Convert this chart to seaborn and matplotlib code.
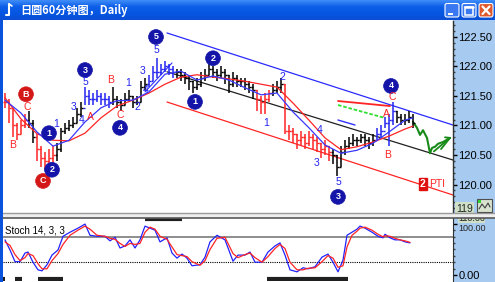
import numpy as np
import pandas as pd
import matplotlib
matplotlib.use("Agg")
import matplotlib.pyplot as plt
import seaborn as sns
from matplotlib.patches import Rectangle, FancyBboxPatch
from matplotlib.colors import LinearSegmentedColormap
from matplotlib.ticker import MultipleLocator, FixedLocator

# ---------------- data ----------------
closes = [121.40,121.30,121.00,120.85,121.00,121.10,121.05,120.80,120.60,120.45,
          120.40,120.45,120.50,120.60,120.90,120.95,121.00,121.05,121.20,121.30,
          121.50,121.45,121.45,121.50,121.45,121.45,121.40,121.45,121.40,121.35,
          121.45,121.50,121.40,121.40,121.65,121.70,121.75,121.90,121.90,121.95,
          122.00,121.95,121.90,121.90,121.85,121.80,121.75,121.65,121.70,121.80,
          121.85,121.95,121.90,121.85,121.90,121.85,121.70,121.80,121.75,121.75,
          121.70,121.65,121.60,121.45,121.40,121.45,121.55,121.60,121.65,121.70,
          120.90,120.90,120.85,120.75,120.80,120.70,120.80,120.75,120.70,120.60,
          120.65,120.55,120.50,120.30,120.55,120.65,120.70,120.75,120.75,120.80,
          120.75,120.70,120.75,120.85,120.90,121.05,121.10,121.25,121.15,121.10,
          121.10,121.15,121.05]
highs = [121.55,121.45,121.30,121.05,121.10,121.20,121.25,121.10,120.85,120.65,
         120.55,120.60,120.65,120.70,120.95,121.05,121.10,121.15,121.30,121.40,
         121.65,121.60,121.55,121.60,121.55,121.55,121.50,121.65,121.50,121.45,
         121.55,121.60,121.50,121.50,121.75,121.80,121.85,122.00,122.15,122.05,
         122.10,122.05,122.00,121.95,121.95,121.90,121.85,121.75,121.80,121.90,
         121.95,122.05,122.00,121.95,122.00,121.95,121.85,121.90,121.85,121.80,
         121.80,121.75,121.70,121.60,121.50,121.55,121.60,121.70,121.75,121.80,
         121.70,121.00,120.95,120.85,120.90,120.85,120.90,120.85,120.80,120.70,
         120.75,120.65,120.60,120.50,120.65,120.75,120.80,120.85,120.80,120.85,
         120.85,120.80,120.85,120.95,121.00,121.15,121.20,121.40,121.25,121.20,
         121.20,121.25,121.20]
lows = [121.30,121.05,120.80,120.75,120.85,120.95,120.95,120.70,120.40,120.30,
        120.25,120.30,120.35,120.40,120.55,120.85,120.90,120.95,121.05,121.15,
        121.35,121.35,121.35,121.40,121.35,121.35,121.30,121.35,121.30,121.25,
        121.35,121.40,121.30,121.35,121.40,121.60,121.65,121.75,121.80,121.85,
        121.90,121.85,121.80,121.80,121.75,121.70,121.60,121.55,121.60,121.65,
        121.75,121.85,121.80,121.75,121.80,121.70,121.55,121.65,121.65,121.65,
        121.60,121.55,121.45,121.25,121.20,121.20,121.40,121.50,121.55,121.55,
        120.85,120.75,120.70,120.60,120.65,120.60,120.65,120.60,120.55,120.45,
        120.50,120.40,120.35,120.15,120.30,120.50,120.60,120.65,120.65,120.70,
        120.65,120.60,120.65,120.75,120.80,120.95,120.65,121.00,121.05,121.00,
        121.00,121.05,120.95]

# moving averages, read every 4 bars
ma_pos = [0,4,8,12,16,20,24,28,32,36,40,44,48,52,56,60,64,68,72,76,80,84,88,92,96,100,102]
red_ma = [121.47,121.11,120.86,120.75,120.74,120.87,121.13,121.33,121.43,121.55,121.70,121.82,121.86,
          121.82,121.79,121.75,121.70,121.65,121.38,121.09,120.79,120.59,120.64,120.72,120.82,120.94,120.99]
blue_ma = [121.43,121.21,120.89,120.65,120.75,121.06,121.30,121.42,121.43,121.57,121.87,121.92,121.77,
           121.84,121.77,121.64,121.52,121.55,121.23,120.96,120.67,120.53,120.58,120.70,120.89,121.09,121.13]

# channel lines (bar index, price)
chan_x = [40.5, 112]
chan_blue = [122.568, 121.008]
chan_red = [121.398, 119.822]
chan_black = [121.91, 120.415]

# forecast path
fc_pos = [102,103,103.75,104.5,105.5,106.25,106.75,107.5,108.25,109.5,111.25]
fc_val = [121.06,120.96,120.84,120.92,120.79,120.53,120.62,120.64,120.69,120.72,120.79]

# stochastic 14,3,3
stoch_pos = [0,1.25,2.5,3.75,5,5.75,7,8.25,9.25,10.5,
             11.75,13.25,14.5,16.25,18.25,20,21.25,23,25,26.25,
             27.5,28.75,30,31.25,32.5,33.75,35,36.25,37.5,38.75,
             40.5,41.75,43,44.25,45.5,46.75,48.75,50,51.25,53,
             55,57,58.25,60,61.25,62.5,64.25,65.75,67.5,68.75,
             70,71.25,73,74.5,75.75,77.5,79.25,80.75,82,83.25,
             84.5,85.5,86.75,88,88.75,90,91.75,93.25,94.5,95,
             96.25,97.5,98.75,100,101.25]
stoch_k = [69,49,26,26,43,45,25,10,8,20,
           39,49,76,84,92,100,78,76,76,67,
           74,53,57,69,53,69,96,92,88,65,
           73,43,33,41,33,18,20,35,65,78,
           69,27,39,39,45,25,25,45,57,63,
           39,10,6,14,12,16,35,41,25,6,
           29,78,84,90,96,92,84,76,73,80,
           73,69,69,65,63]
stoch_d = [65,58,40,28,34,42,38,22,12,12,
           28,42,60,78,88,96,90,78,76,72,
           70,62,56,62,60,62,84,94,90,76,
           70,55,40,38,36,26,19,28,50,72,
           74,42,34,40,43,34,25,36,52,60,
           52,25,10,10,13,14,26,38,33,15,
           18,55,78,86,92,94,88,80,75,77,
           76,72,69,67,64]

price_ticks = [120.00, 120.50, 121.00, 121.50, 122.00, 122.50]
stoch_ticks = [0, 100]

# wave labels: (text, bar, price, colour key)
circle_labels = [('B',5.25,121.53,'r'),('C',9.5,120.06,'r'),('1',11,120.87,'b'),('2',11.75,120.25,'b'),
                 ('3',20,121.94,'b'),('4',28.75,120.96,'b'),('5',37.75,122.50,'b'),('1',47.5,121.40,'b'),
                 ('2',52,122.14,'b'),('3',83.25,119.79,'b'),('4',96.5,121.67,'b')]
text_labels = [('B',2,120.67,'r'),('C',5.5,121.31,'r'),('1',12.75,121.03,'b'),('3',17.25,121.31,'b'),
               ('4',19.25,121.09,'b'),('A',21.25,121.14,'r'),('C',28.75,121.18,'r'),('2',33,121.31,'b'),
               ('5',20,121.74,'b'),('B',26.5,121.77,'r'),('1',30.75,121.72,'b'),('3',34.5,121.92,'b'),
               ('4',35.25,121.60,'b'),('5',37.75,122.28,'b'),('2',69.25,121.82,'b'),('C',96.75,121.48,'r'),
               ('1',65.25,121.04,'b'),('4',78.75,120.92,'b'),('3',78,120.36,'b'),('5',83.25,120.04,'b'),
               ('A',95.25,121.19,'r'),('B',95.75,120.50,'r')]

# ---------------- style ----------------
sns.set_style("white")
plt.rcParams['font.family'] = ['Liberation Sans', 'Noto Sans CJK SC', 'DejaVu Sans']

RED = '#ff2424'
BLUE = '#2424f0'
W, H = 495, 282
fig = plt.figure(figsize=(4.95, 2.82), dpi=100)
fig.patch.set_facecolor('white')

# background (pixel coordinates) for window chrome
ax_bg = fig.add_axes([0, 0, 1, 1], zorder=0)
grad = np.linspace(0, 1, 40)[:, None]
cmap = LinearSegmentedColormap.from_list('tb', ['#3f8cf8', '#0c5ee8', '#0556e2', '#0a4ed4'])
ax_bg.imshow(grad, extent=(0, W, 20, 0), cmap=cmap, aspect='auto')
ax_bg.set_xlim(0, W); ax_bg.set_ylim(H, 0); ax_bg.axis('off')
ax_bg.add_patch(Rectangle((453, 20), 42, 262, fc='#a6caf0', ec='none'))
ax_bg.add_patch(Rectangle((0, 20), 3, 262, fc='#0b52dc', ec='none'))
ax_bg.text(20, 10.5, '日圆60分钟图，Daily', color='white', fontsize=8, fontweight='bold',
           va='center', ha='left', family=['Noto Sans CJK SC', 'DejaVu Sans'])
ax_bg.plot([9, 9, 6], [4, 15, 15], color='white', lw=1.5)
ax_bg.plot([9, 12], [4, 6], color='white', lw=1.2)
for x0, fcol in [(445, '#3a78f2'), (462, '#3a78f2'), (479, '#e0582e')]:
    ax_bg.add_patch(FancyBboxPatch((x0, 3.5), 14, 13.5, boxstyle='round,pad=0,rounding_size=2',
                                   fc=fcol, ec='white', lw=0.8))
ax_bg.add_patch(Rectangle((448, 12.5), 5, 2, fc='white', ec='none'))
ax_bg.add_patch(Rectangle((465, 6.5), 8, 8, fill=False, ec='white', lw=1.1))
ax_bg.plot([465, 473], [7, 7], color='white', lw=1.8)
ax_bg.plot([482.5, 489.5], [6.5, 14], color='white', lw=1.6)
ax_bg.plot([482.5, 489.5], [14, 6.5], color='white', lw=1.6)

# ---------------- main price panel ----------------
ax = fig.add_axes([3 / W, 1 - 213 / H, 450 / W, 192 / H], zorder=1)
ax.set_facecolor('white')
idx = np.arange(len(closes))
opens = [closes[0]] + closes[:-1]
segments = [(0, 5, RED), (6, 7, 'black'), (8, 12, RED), (13, 19, 'black'), (20, 26, BLUE),
            (27, 35, 'black'), (36, 42, BLUE), (43, 62, 'black'), (63, 66, RED), (67, 69, 'black'),
            (70, 81, RED), (82, 92, 'black'), (93, 97, BLUE), (98, 102, 'black')]
cols = ['black'] * len(closes)
for s, e, c in segments:
    for k in range(s, e + 1):
        cols[k] = c
ax.vlines(idx, lows, highs, colors=cols, lw=1.1, zorder=3)
ax.hlines(opens, idx - 0.5, idx, colors=cols, lw=1.0, zorder=3)
ax.hlines(closes, idx, idx + 0.5, colors=cols, lw=1.0, zorder=3)

sns.lineplot(x=ma_pos, y=red_ma, ax=ax, color=RED, lw=0.9, zorder=4)
sns.lineplot(x=ma_pos, y=blue_ma, ax=ax, color='#3838ff', lw=0.9, zorder=4)
sns.lineplot(x=chan_x, y=chan_blue, ax=ax, color='#2a2aff', lw=0.9)
sns.lineplot(x=chan_x, y=chan_red, ax=ax, color=RED, lw=0.9)
sns.lineplot(x=chan_x, y=chan_black, ax=ax, color='#202020', lw=0.9)
ax.plot([35, 41.75], [121.57, 122.06], color='#3030ff', lw=0.8)
ax.plot([83.25, 96.25], [121.415, 121.33], color=RED, lw=1.3)
ax.plot([83.25, 95], [121.347, 121.127], color='#30e030', lw=1.3, ls=(0, (2, 1)))
ax.plot([83.25, 87.5], [121.093, 121.008], color='#3030ff', lw=1.0)
sns.lineplot(x=fc_pos, y=fc_val, ax=ax, color='#188a18', lw=1.5, sort=False)
ax.plot([107.2, 111.25], [120.56, 120.79], color='#188a18', lw=1.3)
ax.plot([109.0, 111.25], [120.60, 120.79], color='#188a18', lw=1.3)
ax.plot([110.0, 111.25], [120.80, 120.79], color='#188a18', lw=1.3)

for t, xb, yp, ck in circle_labels:
    fcol = '#1414a8' if ck == 'b' else '#d41818'
    ax.text(xb, yp, t, color='white', fontsize=6.5, fontweight='bold', ha='center', va='center',
            zorder=6, bbox=dict(boxstyle='circle,pad=0.32', fc=fcol, ec=fcol, lw=0.5))
for t, xb, yp, ck in text_labels:
    ax.text(xb, yp, t, color=BLUE if ck == 'b' else RED, fontsize=7.5, ha='center', va='center', zorder=6)
ax.text(104.5, 120.01, '2', color='white', fontsize=7.5, fontweight='bold', ha='center', va='center',
        bbox=dict(boxstyle='square,pad=0.12', fc='#e01010', ec='#e01010'), zorder=6)
ax.text(106.0, 120.01, 'PTI', color=RED, fontsize=7.5, ha='left', va='center', zorder=6)

ax.set_xlim(-0.5, 112)
ax.set_ylim(119.517, 122.771)
ax.set_xticks([])
ax.yaxis.tick_right()
ax.yaxis.set_major_locator(FixedLocator(price_ticks))
ax.set_yticklabels([f'{v:.2f}' for v in price_ticks])
ax.yaxis.set_minor_locator(MultipleLocator(0.1))
ax.tick_params(axis='y', which='major', direction='out', length=3, width=1, pad=1, labelsize=8, colors='black')
ax.tick_params(axis='y', which='minor', direction='out', length=1.2, width=1, colors='#404040')
for sp in ['left', 'top', 'bottom']:
    ax.spines[sp].set_visible(False)
ax.spines['right'].set_color('#303030')
ax.spines['right'].set_linewidth(1)

# ---------------- stochastic panel ----------------
ax_s = fig.add_axes([3 / W, 1 / H, 450 / W, 63 / H], zorder=1)
ax_s.set_facecolor('white')
ax_s.axhline(75, color='#7a7a7a', lw=1.2)
ax_s.axhline(25, color='black', lw=0.8, ls=(0, (1, 1)))
sns.lineplot(x=stoch_pos, y=stoch_k, ax=ax_s, color='#2222ff', lw=0.9)
sns.lineplot(x=stoch_pos, y=stoch_d, ax=ax_s, color=RED, lw=0.9)
ax_s.plot([35, 44.25], [109.8, 109.8], color='#202020', lw=3, solid_capstyle='butt')
for a, b in [(-0.5, 0), (2.5, 4.25), (8.25, 14.5), (65.5, 85.75)]:
    ax_s.plot([a, b], [-8, -8], color='#202020', lw=3, solid_capstyle='butt')
ax_s.text(0.005, 0.80, 'Stoch 14, 3, 3', transform=ax_s.transAxes, fontsize=7, color='black',
          ha='left', va='center')
ax_s.set_xlim(-0.5, 112)
ax_s.set_ylim(-12, 112)
ax_s.set_xticks([])
ax_s.yaxis.tick_right()
ax_s.yaxis.set_major_locator(FixedLocator(stoch_ticks))
ax_s.set_yticklabels(['0.00', ''])
ax_s.yaxis.set_minor_locator(MultipleLocator(12.5))
ax_s.tick_params(axis='y', which='major', direction='out', length=3, width=1, pad=1, labelsize=8, colors='black')
ax_s.tick_params(axis='y', which='minor', direction='out', length=1.2, width=1, colors='#404040')
for sp in ['left', 'top', 'bottom']:
    ax_s.spines[sp].set_visible(False)
ax_s.spines['right'].set_color('#303030')

# ---------------- overlay: separator and right-panel bits ----------------
ax_ov = fig.add_axes([0, 0, 1, 1], zorder=3)
ax_ov.set_xlim(0, W); ax_ov.set_ylim(H, 0); ax_ov.axis('off')
ax_ov.patch.set_alpha(0)
ax_ov.text(456, 208.5, '119', fontsize=7.5, va='center', ha='left', zorder=2,
           bbox=dict(boxstyle='square,pad=0.1', fc='#cfe0c6', ec='none'))
ax_ov.text(458, 218.3, '110.00', fontsize=6.5, va='center', ha='left', zorder=2,
           bbox=dict(boxstyle='square,pad=0.02', fc='#cfe0c6', ec='none'))
ax_ov.text(458, 228.3, '100.00', fontsize=6.5, va='center', ha='left', zorder=2)
ax_ov.add_patch(Rectangle((3, 212.5), 492, 5.5, fc='#eeeeee', ec='none', zorder=4))
ax_ov.plot([3, 495], [213, 213], color='#9a9a9a', lw=1.0, zorder=5)
ax_ov.plot([3, 495], [217.6, 217.6], color='#5a5a5a', lw=1.2, zorder=5)
ax_ov.add_patch(Rectangle((477, 199), 15, 13, fc='#d8e4d0', ec='#505050', lw=0.8, zorder=6))
ax_ov.plot([479, 482, 485, 488, 490], [209, 204, 208, 203, 207], color='#404040', lw=0.8, zorder=7)
ax_ov.add_patch(Rectangle((478, 200), 3, 3, fc='#30d030', ec='none', zorder=7))

fig.savefig('out.png', dpi=100)
